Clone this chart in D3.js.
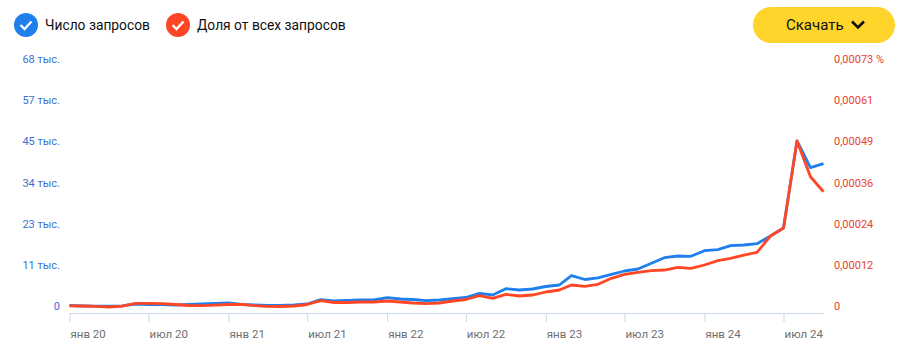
<!DOCTYPE html>
<html>
<head>
<meta charset="utf-8">
<script src="https://cdn.jsdelivr.net/npm/d3@7"></script>
<style>
  html, body { margin: 0; padding: 0; background: #fff; }
  svg { display: block; font-family: Roboto, sans-serif; }
  .domain { stroke: #c9d5ea; }
  .x-axis line { stroke: #c9d5ea; }
  .y-axis .domain, .y-axis line { display: none; }
</style>
</head>
<body>
<div id="chart-area"></div>
<script>
var startMonth = new Date(2020, 0, 1);
var endMonth = new Date(2024, 9, 1);

// число запросов, Jan 2020 - Oct 2024
var requests = [
  550, 413, 358, 358, 468, 964, 826, 826, 688, 826, 964, 1156,
  1239, 826, 688, 606, 606, 688, 964, 2147, 1789, 1927, 2120, 2065,
  2698, 2340, 2202, 1872, 2065, 2423, 2753, 3909, 3441, 5176, 4818, 5093,
  5781, 6194, 8755, 7708, 8176, 9140, 10048, 10599, 12168, 13710, 14178, 14095,
  15637, 15912, 17014, 17206, 17564, 19684, 21886, 45837, 38487, 39588
];

// доля от всех запросов, in millionths of a percent
var share = [
  5.0, 4.4, 3.5, 1.5, 3.8, 12.4, 12.1, 11.5, 8.9, 5.9, 5.3, 6.8,
  8.9, 9.5, 5.3, 3.5, 3.0, 4.4, 8.9, 20.1, 14.8, 14.8, 16.3, 16.3,
  19.2, 16.3, 13.3, 11.2, 13.3, 19.2, 23.6, 34.9, 27.2, 39.0, 34.0, 36.9,
  45.8, 51.7, 66.5, 62.6, 68.6, 86.3, 98.1, 104.0, 108.7, 110.8, 118.8, 115.8,
  125.6, 138.3, 145.4, 155.1, 163.1, 211.3, 234.9, 492.0, 386.5, 342.2
];

var leftTickValues = [0, 11333, 22667, 34000, 45333, 56667, 68000];
var leftTickLabels = ["0", "11 тыс.", "23 тыс.", "34 тыс.", "45 тыс.", "57 тыс.", "68 тыс."];
var rightTickValues = [0, 121.67, 243.33, 365, 486.67, 608.33, 730];
var rightTickLabels = ["0", "0,00012", "0,00024", "0,00036", "0,00049", "0,00061", "0,00073 %"];
var monthNames = ["янв", "фев", "мар", "апр", "май", "июн", "июл", "авг", "сен", "окт", "ноя", "дек"];
var legendItems = ["Число запросов", "Доля от всех запросов"];

var blue = "#1f7fec";
var red = "#ff4726";

var svg = d3.select("#chart-area")
  .append("svg")
  .attr("width", 920)
  .attr("height", 356);

var months = d3.timeMonth.range(startMonth, d3.timeMonth.offset(endMonth, 1));

var x = d3.scaleTime()
  .domain([startMonth, endMonth])
  .range([69.5, 823.5]);

var yLeft = d3.scaleLinear()
  .domain([0, 68000])
  .range([307.5, 60.5]);

var yRight = d3.scaleLinear()
  .domain([0, 730])
  .range([307.5, 60.5]);

// Axes
var xAxisCall = d3.axisBottom(x)
  .tickValues(d3.timeMonth.every(6).range(startMonth, endMonth))
  .tickSize(9)
  .tickSizeOuter(0)
  .tickFormat(function(d) {
    return monthNames[d.getMonth()] + " " + String(d.getFullYear()).slice(2);
  });

var xAxisGroup = svg.append("g")
  .attr("class", "x-axis")
  .attr("transform", "translate(0,313)")
  .call(xAxisCall);

xAxisGroup.selectAll("text")
  .attr("text-anchor", "start")
  .attr("x", 0.5)
  .attr("y", 17)
  .attr("font-size", "11.5px")
  .attr("font-family", "Roboto, sans-serif")
  .attr("fill", "#6f6f6f");

var leftAxisCall = d3.axisLeft(yLeft)
  .tickValues(leftTickValues)
  .tickSize(0)
  .tickFormat(function(d, i) { return leftTickLabels[i]; });

svg.append("g")
  .attr("class", "y-axis")
  .attr("transform", "translate(63,-1.5)")
  .call(leftAxisCall)
  .selectAll("text")
  .attr("font-size", "11px")
  .attr("font-family", "Roboto, sans-serif")
  .attr("fill", "#3a6fd0");

var rightAxisCall = d3.axisRight(yRight)
  .tickValues(rightTickValues)
  .tickSize(0)
  .tickFormat(function(d, i) { return rightTickLabels[i]; });

svg.append("g")
  .attr("class", "y-axis")
  .attr("transform", "translate(831,-1.5)")
  .call(rightAxisCall)
  .selectAll("text")
  .attr("font-size", "11px")
  .attr("font-family", "Roboto, sans-serif")
  .attr("fill", "#e8402f");

// Lines
var requestsLine = d3.line()
  .x(function(d, i) { return x(months[i]); })
  .y(function(d) { return yLeft(d); });

var shareLine = d3.line()
  .x(function(d, i) { return x(months[i]); })
  .y(function(d) { return yRight(d); });

svg.append("path")
  .datum(requests)
  .attr("fill", "none")
  .attr("stroke", blue)
  .attr("stroke-width", 2.8)
  .attr("stroke-linejoin", "round")
  .attr("d", requestsLine);

svg.append("path")
  .datum(share)
  .attr("fill", "none")
  .attr("stroke", red)
  .attr("stroke-width", 2.8)
  .attr("stroke-linejoin", "round")
  .attr("d", shareLine);

// Legend
var legend = svg.selectAll(".legend")
  .data(legendItems)
  .enter()
  .append("g")
  .attr("class", "legend")
  .attr("transform", function(d, i) {
    return "translate(" + (i === 0 ? 26 : 178) + ",25)";
  });

legend.append("circle")
  .attr("r", 12)
  .attr("fill", function(d, i) { return i === 0 ? blue : red; });

legend.append("path")
  .attr("d", "M-5.5,0 L-1.5,4 L5.5,-3.5")
  .attr("fill", "none")
  .attr("stroke", "#fff")
  .attr("stroke-width", 2.4);

legend.append("text")
  .attr("x", 19)
  .attr("y", 4.5)
  .attr("font-size", "13.8px")
  .attr("fill", "#111")
  .text(function(d) { return d; });

// Download button
svg.append("rect")
  .attr("x", 753)
  .attr("y", 7)
  .attr("width", 142)
  .attr("height", 36)
  .attr("rx", 18)
  .attr("fill", "#ffd42b");

svg.append("text")
  .attr("x", 786)
  .attr("y", 29.5)
  .attr("font-size", "15px")
  .attr("fill", "#111")
  .text("Скачать");

svg.append("path")
  .attr("d", "M852,21.5 L858,27.5 L864,21.5")
  .attr("fill", "none")
  .attr("stroke", "#111")
  .attr("stroke-width", 2.6);
</script>
</body>
</html>
